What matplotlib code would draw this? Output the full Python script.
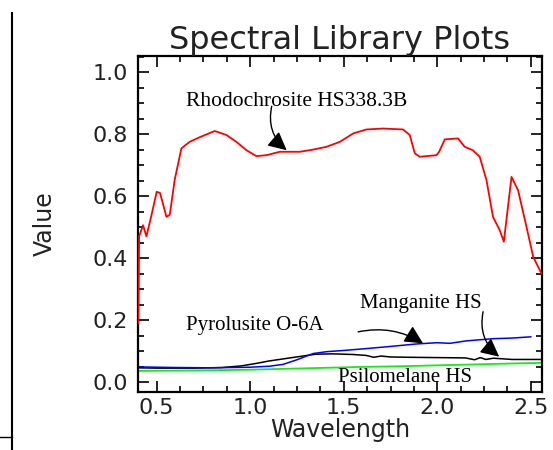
import numpy as np
import matplotlib
matplotlib.use("Agg")
import matplotlib.pyplot as plt
from matplotlib.lines import Line2D
from matplotlib.ticker import MultipleLocator

# spectra
rhodo_x = [0.402, 0.406, 0.427, 0.445, 0.47, 0.50, 0.518, 0.552, 0.57, 0.596, 0.632, 0.676,
           0.73, 0.81, 0.873, 0.926, 0.98, 1.033, 1.087, 1.158, 1.265, 1.336, 1.407,
           1.479, 1.55, 1.621, 1.71, 1.817, 1.853, 1.88, 1.906, 1.996, 2.01, 2.04,
           2.111, 2.147, 2.19, 2.227, 2.263, 2.298, 2.334, 2.356, 2.397, 2.432,
           2.477, 2.513, 2.557]
rhodo_y = [0.19, 0.47, 0.506, 0.47, 0.533, 0.614, 0.61, 0.533, 0.54, 0.652, 0.754, 0.775,
           0.79, 0.81, 0.797, 0.775, 0.748, 0.729, 0.732, 0.743, 0.743, 0.75, 0.759,
           0.775, 0.802, 0.815, 0.818, 0.815, 0.797, 0.738, 0.727, 0.732, 0.743, 0.783,
           0.786, 0.759, 0.748, 0.727, 0.652, 0.533, 0.49, 0.453, 0.662, 0.619,
           0.501, 0.404, 0.35]

mang_x = [0.40, 0.5, 0.7, 0.85, 0.95, 1.03, 1.1, 1.19, 1.27, 1.35, 1.44, 1.55, 1.62,
          1.66, 1.70, 1.75, 1.85, 2.0, 2.15, 2.2, 2.23, 2.26, 2.3, 2.4, 2.55]
mang_y = [0.046, 0.045, 0.045, 0.047, 0.052, 0.060, 0.068, 0.076, 0.083, 0.090, 0.091,
          0.089, 0.086, 0.080, 0.084, 0.081, 0.080, 0.079, 0.078, 0.072, 0.079, 0.073,
          0.077, 0.073, 0.073]

pyro_x = [0.40, 0.6, 0.8, 1.0, 1.1, 1.175, 1.25, 1.336, 1.407, 1.5, 1.62, 1.75, 1.889,
          2.0, 2.067, 2.156, 2.3, 2.4, 2.5]
pyro_y = [0.049, 0.047, 0.046, 0.048, 0.051, 0.057, 0.072, 0.092, 0.098, 0.102, 0.108,
          0.115, 0.123, 0.127, 0.125, 0.133, 0.140, 0.142, 0.146]

psil_x = [0.40, 0.6, 0.8, 1.0, 1.2, 1.4, 1.6, 1.8, 2.0, 2.2, 2.4, 2.56]
psil_y = [0.036, 0.037, 0.038, 0.040, 0.043, 0.046, 0.049, 0.051, 0.054, 0.057, 0.060, 0.062]

xticks = [0.5, 1.0, 1.5, 2.0, 2.5]
yticks = [0.0, 0.2, 0.4, 0.6, 0.8, 1.0]

fig = plt.figure(figsize=(5.53, 4.5), dpi=100)
ax = fig.add_axes([138/553, 58/450, 404/553, 336/450])

ax.plot(mang_x, mang_y, color="black", lw=1.1)
ax.plot(pyro_x, pyro_y, color="blue", lw=1.1)
ax.plot(psil_x, psil_y, color="#11ee11", lw=1.3)
ax.plot(rhodo_x, rhodo_y, color="red", lw=1.3, zorder=5)

ax.set_xlim(0.40, 2.56)
ax.set_ylim(-0.032, 1.052)
ax.set_xticks(xticks)
ax.set_yticks(yticks)
ax.set_xticklabels(["%.1f" % t for t in xticks])
ax.set_yticklabels(["%.1f" % t for t in yticks])
ax.xaxis.set_minor_locator(MultipleLocator(0.125))
ax.yaxis.set_minor_locator(MultipleLocator(0.05))
ax.tick_params(which="both", direction="in", top=True, right=True, width=1.2,
               labelsize=16, labelcolor="#222222")
ax.tick_params(axis="y", pad=7)
ax.tick_params(axis="x", pad=4)
ax.tick_params(which="major", length=8)
ax.tick_params(which="minor", length=4)
for s in ax.spines.values():
    s.set_linewidth(1.6)

ax.set_title("Spectral Library Plots", fontsize=23, pad=4, color="#222222")
ax.set_xlabel("Wavelength", fontsize=17, labelpad=0, color="#222222")
ax.set_ylabel("Value", fontsize=17, labelpad=26, color="#222222")

serif = "Liberation Serif"
arrow = dict(arrowstyle="-|>,head_length=0.7,head_width=0.35", color="black",
             lw=1.0, mutation_scale=16, shrinkA=0, shrinkB=0)

ax.text(0.655, 0.906, "Rhodochrosite HS338.3B", family=serif, fontsize=15.5, va="center")
ax.annotate("", xy=(1.195, 0.748), xytext=(1.115, 0.89),
            arrowprops=dict(arrow, connectionstyle="arc3,rad=0.3"))

ax.text(0.655, 0.184, "Pyrolusite O-6A", family=serif, fontsize=15, va="center")
ax.annotate("", xy=(1.924, 0.125), xytext=(1.577, 0.162),
            arrowprops=dict(arrow, connectionstyle="arc3,rad=-0.2"))

ax.text(1.585, 0.255, "Manganite HS", family=serif, fontsize=15, va="center")
ax.annotate("", xy=(2.331, 0.082), xytext=(2.245, 0.227),
            arrowprops=dict(arrow, connectionstyle="arc3,rad=0.3"))

ax.text(1.468, 0.016, "Psilomelane HS", family=serif, fontsize=15, va="center")

# frame pieces at the left edge of the original screenshot
fig.add_artist(Line2D([12/553, 12/553], [0, 437/450], transform=fig.transFigure,
                      color="black", lw=1.5))
fig.add_artist(Line2D([0, 12/553], [13/450, 13/450], transform=fig.transFigure,
                      color="black", lw=1.0))

fig.savefig("out.png", dpi=100)
